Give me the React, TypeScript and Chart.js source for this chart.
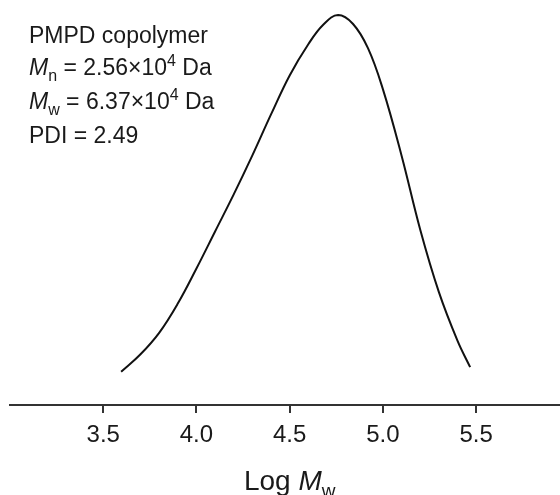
import React, { useEffect, useRef } from "react";
import { Chart, registerables } from "chart.js";

Chart.register(...registerables);

// Data
const logMw: number[] = [3.596, 3.7, 3.8, 3.9, 4.0, 4.1, 4.2, 4.3, 4.4, 4.5, 4.6, 4.68, 4.76, 4.84, 4.92, 5.0, 5.1, 5.2, 5.3, 5.4, 5.468];
const intensity: number[] = [0.085, 0.13, 0.185, 0.26, 0.35, 0.445, 0.54, 0.64, 0.745, 0.845, 0.925, 0.975, 1.0, 0.977, 0.915, 0.81, 0.64, 0.45, 0.29, 0.165, 0.097];
const xTicks: number[] = [3.5, 4.0, 4.5, 5.0, 5.5];

const FONT = '"Liberation Sans", Arial, Helvetica, sans-serif';
const TEXT_COLOR = "#1a1a1a";

type Seg = { t: string; it?: boolean; sub?: boolean; sup?: boolean };

function drawRich(ctx: CanvasRenderingContext2D, x: number, y: number, segs: Seg[], size: number, align: "left" | "center") {
  const fontFor = (s: Seg) => {
    const sz = s.sub || s.sup ? Math.round(size * 0.68) : size;
    return `${s.it ? "italic " : ""}${sz}px ${FONT}`;
  };
  let total = 0;
  for (const s of segs) {
    ctx.font = fontFor(s);
    total += ctx.measureText(s.t).width;
  }
  let cx = align === "center" ? x - total / 2 : x;
  ctx.textAlign = "left";
  ctx.textBaseline = "alphabetic";
  for (const s of segs) {
    ctx.font = fontFor(s);
    const dy = s.sub ? size * 0.25 : s.sup ? -size * 0.4 : 0;
    ctx.fillText(s.t, cx, y + dy);
    cx += ctx.measureText(s.t).width;
  }
}

const textPlugin = {
  id: "richText",
  afterDraw(chart: any) {
    const ctx: CanvasRenderingContext2D = chart.ctx;
    ctx.save();
    ctx.fillStyle = TEXT_COLOR;
    const size = 23;
    const left = 29;
    drawRich(ctx, left, 43, [{ t: "PMPD copolymer" }], size, "left");
    drawRich(ctx, left, 75, [{ t: "M", it: true }, { t: "n", sub: true }, { t: " = 2.56×10" }, { t: "4", sup: true }, { t: " Da" }], size, "left");
    drawRich(ctx, left, 109, [{ t: "M", it: true }, { t: "w", sub: true }, { t: " = 6.37×10" }, { t: "4", sup: true }, { t: " Da" }], size, "left");
    drawRich(ctx, left, 143, [{ t: "PDI = 2.49" }], size, "left");
    const xs = chart.scales.x;
    const cx = xs.getPixelForValue(4.5);
    drawRich(ctx, cx, 490, [{ t: "Log " }, { t: "M", it: true }, { t: "w", sub: true }], 28, "center");
    ctx.restore();
  },
};

export default function App() {
  const ref = useRef<HTMLCanvasElement | null>(null);
  useEffect(() => {
    if (!ref.current) return;
    const chart = new Chart(ref.current, {
      type: "line",
      data: {
        datasets: [
          {
            data: logMw.map((x, i) => ({ x, y: intensity[i] })),
            borderColor: "#111",
            borderWidth: 2,
            pointRadius: 0,
            fill: false,
            tension: 0.4,
            clip: false as any,
          },
        ],
      },
      options: {
        animation: false,
        responsive: false,
        events: [],
        layout: { padding: { left: 10, right: 0, top: 15, bottom: 0 } },
        plugins: { legend: { display: false }, tooltip: { enabled: false }, title: { display: false } },
        scales: {
          x: {
            type: "linear",
            min: 3.0,
            max: 5.95,
            afterBuildTicks: (axis: any) => {
              axis.ticks = xTicks.map((v) => ({ value: v }));
            },
            afterFit: (axis: any) => {
              axis.height = 90;
            },
            border: { display: true, color: "#333", width: 2 },
            grid: {
              display: true,
              drawOnChartArea: false,
              drawTicks: true,
              tickLength: 8,
              color: "#333",
              lineWidth: 2,
              tickColor: "#333",
              tickWidth: 2,
            },
            ticks: {
              autoSkip: false,
              maxRotation: 0,
              padding: 8,
              color: TEXT_COLOR,
              font: { family: FONT, size: 24 },
              callback: (v: any) => Number(v).toFixed(1),
            },
          },
          y: { display: false, min: 0, max: 1.0 },
        },
      },
      plugins: [textPlugin],
    });
    return () => chart.destroy();
  }, []);
  return (
    <div style={{ position: "fixed", left: 0, top: 0, width: 560, height: 495, background: "#fff" }}>
      <canvas ref={ref} width={560} height={495} />
    </div>
  );
}
